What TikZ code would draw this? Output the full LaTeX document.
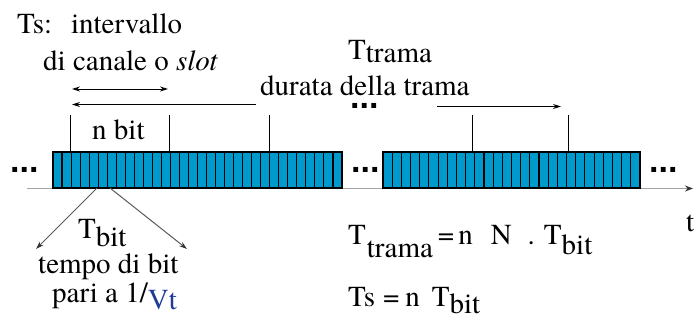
\documentclass[tikz,border=0pt]{standalone}
\usepackage{fontspec}
\IfFontExistsTF{texgyretermes-regular.otf}
  {\setmainfont{texgyretermes}[Extension=.otf,UprightFont=*-regular,ItalicFont=*-italic,BoldFont=*-bold,BoldItalicFont=*-bolditalic]}
  {}
\newfontfamily\dotfont{Liberation Sans}
\usetikzlibrary{arrows.meta}
\definecolor{bitblue}{RGB}{0,153,204}
\definecolor{axisgray}{RGB}{165,165,165}
\definecolor{leadgray}{RGB}{90,90,90}
\definecolor{vtblue}{RGB}{30,60,150}
\begin{document}
\begin{tikzpicture}[x=1pt,y=-1pt,
  txt/.style={inner sep=0pt, anchor=base west, font=\fontsize{29}{34}\selectfont},
  ellip/.style={inner sep=0pt, anchor=base west, font=\fontsize{34}{34}\selectfont\dotfont\bfseries},
  cell/.style={draw=black, line width=1.1pt, fill=bitblue},
  tickline/.style={line width=1pt},
  dim/.style={line width=0.9pt},
  tip/.style={-{Stealth[length=8pt,width=5pt]}},
  lead/.style={draw=leadgray, line width=1pt, -{Stealth[length=8pt,width=5pt,color=black!80]}},
  axisline/.style={draw=axisgray, line width=1.4pt, -{Stealth[length=8pt,width=6pt,color=black!80]}}
]
\useasboundingbox (0,0) rectangle (696,320);

% time axis
\coordinate (axL) at (27,188.5);
\coordinate (axR) at (693,188.5);
\draw[axisline] (axL) -- (axR);

% first frame: 32 bit cells
\foreach \i in {0,...,31}
  \draw[cell] ({53+\i*289/32},152) rectangle ++(289/32,36);
% second frame: 28 bit cells
\foreach \i in {0,...,27}
  \draw[cell] ({383+\i*257/28},152) rectangle ++(257/28,36);

% slot boundary ticks
\foreach \n/\x in {k1/70,k2/169,k3/269,k4/472,k5/568}{
  \coordinate (\n top) at (\x,115);
  \coordinate (\n bot) at (\x,152);
  \draw[tickline] (\n top) -- (\n bot);
}

% slot duration arrow
\coordinate (s1) at (72,89);
\coordinate (s2) at (168,89);
\draw[dim,{Stealth[length=8pt,width=5pt]}-{Stealth[length=8pt,width=5pt]}] (s1) -- (s2);

% frame duration arrows
\coordinate (f1) at (256,104.5);
\coordinate (f2) at (72,104.5);
\draw[dim,tip] (f1) -- (f2);
\coordinate (f3) at (437,106.5);
\coordinate (f4) at (561,106.5);
\draw[dim,tip] (f3) -- (f4);

% bit time leaders
\coordinate (b1) at (97,188);
\coordinate (b2) at (110,188);
\coordinate (b3) at (36,249);
\coordinate (b4) at (187,249);
\draw[lead] (b1) -- (b3);
\draw[lead] (b2) -- (b4);

% labels
\node[txt] (ts) at (17,34) {Ts:\hspace{19pt}intervallo};
\node[txt] (canale) at (43,71) {di canale o \textit{slot}};
\node[txt] (durata) at (260,96) {durata della trama};
\node[txt] (ttrama) at (348,60) {T\raisebox{-3pt}{trama}};
\node[txt] (nbit) at (92,140) {n bit};
\node[txt] (tbit) at (78,239) {T\raisebox{-8pt}{bit}};
\node[txt] (tempo) at (38,274) {tempo di bit};
\node[txt] (pari) at (52,302) {pari a 1/\textcolor{vtblue}{\raisebox{-7pt}{Vt}}};
\node[txt] (eq1) at (348,245) {T\hspace{1pt}\raisebox{-13pt}{trama}\hspace{5pt}=\hspace{4pt}n\hspace{18pt}N\hspace{16pt}.\hspace{9pt}T\raisebox{-10pt}{bit}};
\node[txt] (eq2) at (348,307) {Ts\hspace{8pt}=\hspace{6pt}n\hspace{12pt}T\raisebox{-6pt}{bit}};
\node[txt] (tlab) at (686,232) {t};

% ellipses
\node[ellip] (d1) at (10,173) {...};
\node[ellip] (d2) at (351,173) {...};
\node[ellip] (d3) at (649,173) {...};
\node[ellip] (d4) at (350,109) {...};
\end{tikzpicture}
\end{document}
